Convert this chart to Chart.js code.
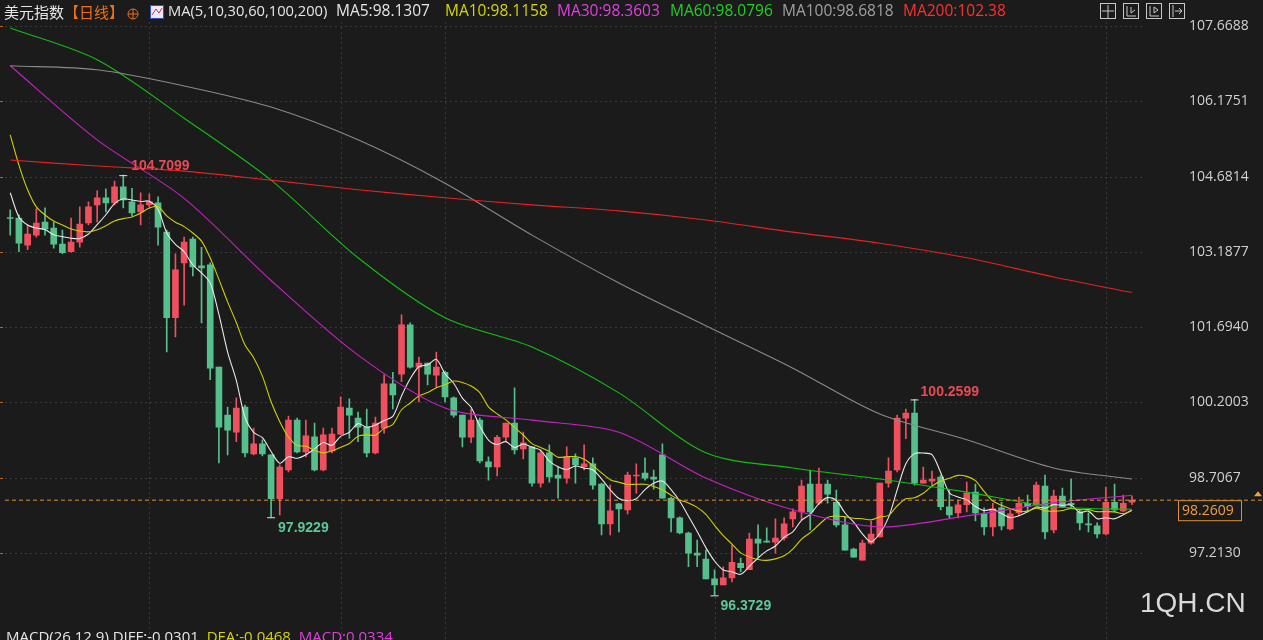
<!DOCTYPE html>
<html><head><meta charset="utf-8">
<script src="https://cdn.jsdelivr.net/npm/chart.js@4/dist/chart.umd.min.js"></script>
<style>html,body{margin:0;padding:0;background:#1b1b1b;}#wrap{position:relative;width:1263px;height:640px;}</style>
</head><body><div id="wrap"><canvas id="c" width="1263" height="640"></canvas></div>
<script>
const opens  = [103.87,103.86,103.32,103.52,103.78,103.66,103.34,103.19,103.38,103.76,104.12,104.26,104.16,104.48,104.18,103.98,104.12,104.16,103.58,101.88,102.97,103.44,102.91,102.93,100.90,99.95,99.61,100.11,99.18,99.38,99.16,98.29,98.86,99.85,99.22,99.52,98.86,99.24,99.57,100.09,99.89,99.71,99.20,99.69,100.57,100.76,101.74,100.90,100.98,100.74,100.80,100.29,99.95,99.51,99.85,99.02,98.92,99.51,99.79,99.28,99.32,98.60,99.20,98.76,98.70,99.10,98.92,98.98,98.58,97.79,98.19,98.07,98.74,98.80,98.72,99.16,98.30,97.91,97.61,97.21,97.09,96.70,96.58,96.72,97.01,96.88,97.49,97.45,97.43,97.51,97.89,98.03,98.58,98.20,98.58,98.22,97.77,97.29,97.07,97.41,97.53,98.60,98.86,99.89,99.99,98.60,98.64,98.72,98.13,98.01,98.17,98.42,97.99,97.73,98.11,97.69,98.01,98.20,98.17,98.54,97.67,98.34,98.20,98.03,97.79,97.75,97.59,98.22,98.05,98.22];
const highs  = [104.02,103.92,103.72,104.04,104.06,103.78,103.62,103.86,104.08,104.18,104.40,104.44,104.59,104.7099,104.45,104.36,104.34,104.28,103.62,103.15,103.48,103.48,103.28,102.97,100.90,100.11,100.29,100.15,99.69,99.46,99.16,98.96,99.93,99.89,99.85,99.79,99.69,99.69,100.31,100.27,100.01,100.07,99.91,100.75,100.80,101.94,101.78,101.10,100.98,101.20,100.82,100.31,99.95,100.07,99.89,99.12,99.55,99.79,100.49,99.61,99.32,99.26,99.36,98.92,99.32,99.18,99.36,99.10,98.60,98.56,98.20,98.82,98.98,99.10,98.86,99.38,98.32,97.93,97.63,97.47,97.27,96.88,96.94,97.37,97.11,97.61,97.77,97.71,97.89,97.91,98.09,98.66,98.86,98.90,98.66,98.46,97.93,97.31,97.47,97.85,98.60,99.10,99.95,100.07,100.2599,98.92,98.84,98.76,98.46,98.26,98.62,98.58,98.11,98.20,98.22,98.07,98.32,98.36,98.62,98.76,98.46,98.50,98.68,98.07,98.01,97.81,98.52,98.58,98.36,98.34];
const lows   = [103.52,103.19,103.23,103.48,103.52,103.26,103.15,103.18,103.28,103.72,103.78,103.98,104.12,104.06,103.90,103.72,104.08,103.32,101.20,101.50,102.13,102.71,101.78,100.65,99.00,99.16,99.42,99.12,99.16,99.14,97.9229,97.97,98.82,99.20,99.12,98.84,98.84,99.20,99.56,99.49,99.42,99.12,99.18,99.59,100.07,100.61,100.88,100.21,100.55,100.51,100.21,99.91,99.32,99.40,99.00,98.66,98.74,99.42,99.18,99.08,98.54,98.52,98.62,98.30,98.60,98.60,98.86,98.48,97.57,97.57,97.63,97.99,98.40,98.66,98.48,98.30,97.63,97.59,96.94,96.94,96.70,96.3729,96.58,96.64,96.84,96.88,97.13,97.43,97.21,97.47,97.73,97.87,97.67,98.17,98.20,97.73,97.27,97.13,97.07,97.39,97.53,98.52,98.82,99.48,98.56,98.60,98.52,98.07,97.91,97.91,98.03,97.85,97.57,97.55,97.67,97.67,97.95,98.03,98.15,97.49,97.61,98.13,98.11,97.67,97.63,97.51,97.57,98.03,98.03,98.17];
const closes = [103.85,103.36,103.54,103.76,103.64,103.34,103.17,103.38,103.74,104.08,104.26,104.16,104.48,104.22,103.96,104.12,104.18,103.68,101.88,102.83,103.38,102.89,102.87,100.88,99.71,99.65,100.09,99.20,99.38,99.18,98.29,98.92,99.85,99.22,99.54,98.86,99.56,99.57,100.11,99.95,99.71,99.20,99.79,100.57,100.35,101.74,100.90,100.98,100.76,100.90,100.31,99.95,99.51,99.85,99.04,98.92,99.51,99.79,99.26,99.40,98.60,99.20,98.72,98.70,99.12,98.96,98.98,98.56,97.79,98.05,98.09,98.76,98.76,98.70,98.68,98.30,97.91,97.61,97.21,97.17,96.70,96.58,96.72,97.03,96.92,97.49,97.41,97.43,97.51,97.79,98.03,98.54,98.03,98.58,98.38,97.77,97.27,97.13,97.41,97.59,98.60,98.84,99.89,99.99,98.60,98.66,98.68,98.13,97.97,98.17,98.40,98.01,97.73,98.09,97.75,97.99,98.20,98.13,98.56,97.63,98.34,98.13,98.17,97.81,97.77,97.59,98.22,98.07,98.20,98.2609];
// moving averages (sparse) and early MA5/MA10 values
const maIdx   = [0,10,20,30,40,50,60,70,80,90,100,110,120,129];
const ma30v   = [106.88,105.41,104.25,102.62,101.14,100.09,99.85,99.61,98.70,98.07,97.73,97.95,98.21,98.36];
const ma60v   = [107.63,107.00,105.84,104.61,103.07,101.88,101.30,100.39,99.20,98.90,98.68,98.42,98.13,98.08];
const ma100v  = [106.88,106.80,106.48,106.06,105.41,104.55,103.52,102.57,101.72,100.88,99.97,99.46,98.90,98.68];
const ma200v  = [105.01,104.89,104.79,104.61,104.42,104.26,104.12,104.00,103.82,103.58,103.36,103.07,102.69,102.38];
const ma5Early  = [104.36,103.88,103.72,103.66];
const ma10Early = [105.51,104.91,104.42,104.08,103.92,103.80,103.72,103.64,103.60];
const yTicks = [107.6688,106.1751,104.6814,103.1877,101.6940,100.2003,98.7067,97.2130];
const lastPrice = 98.2609;
const headerMA = [["MA5:98.1307","#e6e6e6",336],["MA10:98.1158","#d6d600",445],["MA30:98.3603","#e040e0",557],["MA60:98.0796","#20d020",670],["MA100:98.6818","#a0a0a0",782],["MA200:102.38","#ff3030",903]];

const N = closes.length;
function sma(k, early){ return closes.map((c,i)=> i<early.length ? early[i] : closes.slice(i-k+1,i+1).reduce((a,b)=>a+b,0)/k); }
const ma5 = sma(5, ma5Early), ma10 = sma(10, ma10Early);
const RED='#f0505e', GREEN='#55c08c';
const col = closes.map((c,i)=> c>=opens[i]?RED:GREEN);
const wick = closes.map((c,i)=>({x:i,y:[lows[i],highs[i]]}));
const body = closes.map((c,i)=>({x:i,y:[opens[i],c]}));
const line=(arr,color,idx)=>({type:'line',clip:false,data:(idx||arr.map((_,i)=>i)).map((x,j)=>({x,y:arr[j]})),borderColor:color,borderWidth:1.1,pointRadius:0,tension:0.3,order:0});

const deco = {
 id:'deco',
 beforeDraw(ch){
  const g=ch.ctx, ya=ch.scales.y, xa=ch.scales.x, a=ch.chartArea;
  g.save(); g.fillStyle='#1b1b1b'; g.fillRect(0,0,ch.width,ch.height);
  g.strokeStyle='#3a3a3a'; g.setLineDash([2,3]); g.lineWidth=1;
  yTicks.forEach(t=>{const y=Math.round(ya.getPixelForValue(t))+0.5; g.beginPath(); g.moveTo(a.left,y); g.lineTo(a.right,y); g.stroke();
    g.save(); g.setLineDash([]); g.strokeStyle='#c06020'; g.beginPath(); g.moveTo(0,y); g.lineTo(3,y); g.stroke(); g.restore();});
  [16,38,50,81,126].forEach(i=>{const x=Math.round(xa.getPixelForValue(i))+0.5; g.beginPath(); g.moveTo(x,22); g.lineTo(x,ch.height); g.stroke();});
  g.restore();
 },
 afterDatasetsDraw(ch){
  const g=ch.ctx, ya=ch.scales.y, xa=ch.scales.x, a=ch.chartArea;
  g.save();
  const yl=ya.getPixelForValue(lastPrice);
  g.strokeStyle='#e09030'; g.setLineDash([4,3]); g.beginPath(); g.moveTo(a.left,yl); g.lineTo(1263,yl); g.stroke(); g.setLineDash([]);
  g.fillStyle='#1b1b1b'; g.fillRect(1178,yl,64,21); g.strokeStyle='#e09030'; g.strokeRect(1178.5,yl+0.5,63,20);
  g.fillStyle='#f0a040'; g.font='14px "Open Sans", Arial'; g.textBaseline='middle'; g.fillText(lastPrice.toFixed(4),1182,yl+11);
  g.beginPath(); g.moveTo(1254,yl-4); g.lineTo(1258,yl-9); g.lineTo(1262,yl-4); g.fill();
  g.font='bold 14px "Liberation Sans", Arial'; g.textBaseline='middle';
  const mark=(i,v,txt,colr,dx,dy)=>{const x=xa.getPixelForValue(i), y=ya.getPixelForValue(v);
    g.strokeStyle='#e0e0e0'; g.beginPath(); g.moveTo(x-4,y+0.5); g.lineTo(x+4,y+0.5); g.stroke();
    g.fillStyle=colr; g.fillText(txt,x+dx,y+dy);};
  let hi=0,lo=0; highs.forEach((h,i)=>{if(h>highs[hi])hi=i;}); lows.forEach((l,i)=>{if(l<lows[lo])lo=i;});
  mark(hi,highs[hi],highs[hi].toFixed(4),'#e84a56',8,-9);
  mark(30,lows[30],lows[30].toFixed(4),'#5cc896',7,11);
  mark(lo,lows[lo],lows[lo].toFixed(4),'#5cc896',6,11);
  let h2=90; for(let i=90;i<N;i++) if(highs[i]>highs[h2]) h2=i;
  mark(h2,highs[h2],highs[h2].toFixed(4),'#e84a56',6,-7);
  g.fillStyle='#1b1b1b'; g.fillRect(0,0,1150,22);
  g.textBaseline='middle'; g.font='15px "Noto Sans CJK SC", sans-serif';
  let x=4; const ty=12;
  const put=(t,c)=>{g.fillStyle=c; g.fillText(t,x,ty); x+=g.measureText(t).width;};
  put('美元指数','#e6e6e6'); put('【日线】','#f07010'); x=128;
  g.strokeStyle='#f07010'; g.beginPath(); g.arc(x+5,ty+2,5,0,7); g.moveTo(x,ty+2); g.lineTo(x+10,ty+2); g.moveTo(x+5,ty-3); g.lineTo(x+5,ty+7); g.stroke(); x=150;
  g.fillStyle='#e8e8ff'; g.fillRect(x,ty-7,14,14); g.strokeStyle='#3050c0'; g.strokeRect(x+0.5,ty-6.5,13,13);
  g.strokeStyle='#e03030'; g.beginPath(); g.moveTo(x+2,ty+3); g.lineTo(x+6,ty-3); g.lineTo(x+9,ty+1); g.lineTo(x+12,ty-4); g.stroke(); x=168;
  g.font='14.7px "Open Sans", "Liberation Sans", sans-serif';
  put('MA(5,10,30,60,100,200)','#e6e6e6');
  g.font='15.5px "Open Sans", "Liberation Sans", sans-serif';
  headerMA.forEach(([t,c,px])=>{x=px; put(t,c);});
  g.strokeStyle='#c8c8c8';
  [1100,1123,1146,1169].forEach((ix,k)=>{g.strokeRect(ix+0.5,3.5,15,15);
    g.beginPath(); if(k===0){g.moveTo(ix+8,5);g.lineTo(ix+8,18);g.moveTo(ix+2,11);g.lineTo(ix+14,11);}
    else if(k===1){g.moveTo(ix+4,6);g.lineTo(ix+4,16);g.lineTo(ix+13,16);g.moveTo(ix+8,7);g.lineTo(ix+8,13);g.lineTo(ix+12,10);}
    else if(k===2){g.moveTo(ix+4,6);g.lineTo(ix+4,16);g.lineTo(ix+13,16);g.moveTo(ix+8,7);g.lineTo(ix+8,13);g.lineTo(ix+12,10);g.closePath();}
    else {g.moveTo(ix+4,5);g.lineTo(ix+4,17);g.moveTo(ix+6,11);g.lineTo(ix+13,11);g.moveTo(ix+10,8);g.lineTo(ix+13,11);g.lineTo(ix+10,14);}
    g.stroke();});
  g.font='28px "Liberation Sans", Arial'; g.fillStyle='#d8d8d8'; g.textBaseline='middle'; g.fillText('1QH.CN',1140,604);
  g.font='15px "Open Sans", sans-serif'; g.textBaseline='top'; x=6;
  const ty2=630; const put2=(t,c)=>{g.fillStyle=c; g.fillText(t,x,ty2); x+=g.measureText(t).width;};
  put2('MACD(26,12,9) DIFF:-0.0301  ','#e6e6e6'); put2('DEA:-0.0468  ','#d6d600'); put2('MACD:0.0334','#e040e0');
  g.restore();
 }
};

const chart = new Chart(document.getElementById('c'),{
 data:{datasets:[
  {type:'bar',data:wick,backgroundColor:col,barThickness:1,order:2,grouped:false,minBarLength:1},
  {type:'bar',data:body,backgroundColor:col,barThickness:6,order:1,grouped:false,minBarLength:1},
  line(ma200v,'#e82020',maIdx), line(ma100v,'#8a8a8a',maIdx), line(ma60v,'#10c010',maIdx), line(ma30v,'#c820c8',maIdx),
  line(ma10,'#d0d000'), line(ma5,'#e8e8e8')
 ]},
 options:{responsive:false,animation:false,events:[],
  layout:{padding:{left:5,top:4,bottom:40,right:0}},
  plugins:{legend:{display:false},tooltip:{enabled:false}},
  scales:{
   x:{type:'linear',min:-0.6,max:130.5,display:false,offset:false},
   y:{position:'right',min:96.28,max:107.788,
      afterBuildTicks(s){s.ticks=yTicks.map(v=>({value:v}));},
      afterFit(s){s.width=118;},
      grid:{display:false},border:{display:false},
      ticks:{color:'#d0d0d0',padding:36,font:{size:14,family:'"Open Sans", "Liberation Sans", sans-serif'},callback:v=>v.toFixed(4)}}
  }},
 plugins:[deco]
});
const pp = y => 107.6688 - (y-26)*(107.6688-97.2130)/527;
chart.options.scales.y.max = pp(chart.chartArea.top);
chart.options.scales.y.min = pp(chart.chartArea.bottom);
chart.update();
</script></body></html>
